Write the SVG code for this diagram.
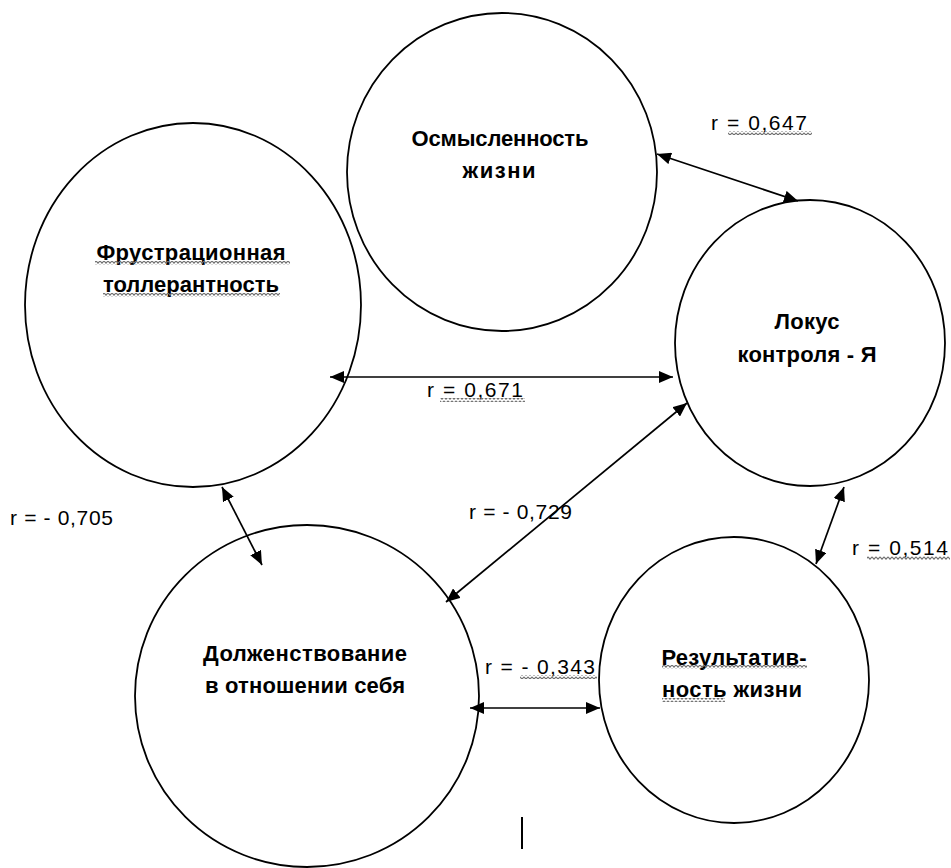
<svg xmlns="http://www.w3.org/2000/svg" width="951" height="868" viewBox="0 0 951 868">
<style>
.node ellipse{fill:#fff;stroke:#000;stroke-width:1.8}
.nt{font-family:"Liberation Sans",Arial,sans-serif;font-weight:bold;font-size:22px;fill:#000;text-anchor:middle}
.lbl{font-family:"Liberation Sans",Arial,sans-serif;font-size:21px;fill:#000}
.conn line{stroke:#000;stroke-width:1.7;marker-start:url(#ah);marker-end:url(#ah)}
.sq{fill:url(#wave)}
</style>
<defs>
<marker id="ah" markerUnits="userSpaceOnUse" markerWidth="15" markerHeight="12" refX="14" refY="6" orient="auto-start-reverse">
<path d="M0,0 L14,6 L0,12 z" fill="#000"/>
</marker>
<pattern id="wave" patternUnits="userSpaceOnUse" width="4" height="4">
<path d="M0,0.8 L2,3.2 L4,0.8" fill="none" stroke="#707070" stroke-width="1.1"/>
</pattern>
</defs>
<rect width="951" height="868" fill="#fff"/>

<g id="node-osmyslennost" class="node">
<ellipse cx="502" cy="172" rx="155" ry="159"/>
<text class="nt" x="500" y="146" textLength="177">Осмысленность</text>
<text class="nt" x="499" y="178" textLength="73">жизни</text>
</g>

<g id="node-frustr" class="node">
<ellipse cx="193" cy="305" rx="168" ry="182"/>
<text class="nt" x="191" y="260" textLength="189">Фрустрационная</text>
<text class="nt" x="191" y="292" textLength="176">толлерантность</text>
<rect class="sq" x="95" y="261" width="195" height="4"/>
<rect class="sq" x="103" y="293" width="177" height="4"/>
</g>

<g id="node-lokus" class="node">
<ellipse cx="810" cy="343" rx="135" ry="143"/>
<text class="nt" x="807" y="329" textLength="65">Локус</text>
<text class="nt" x="807" y="362" textLength="139">контроля - Я</text>
</g>

<g id="node-dolzh" class="node">
<ellipse cx="307" cy="696" rx="172" ry="171"/>
<text class="nt" x="305" y="661" textLength="204">Долженствование</text>
<text class="nt" x="305" y="693" textLength="200">в отношении себя</text>
</g>

<g id="node-result" class="node">
<ellipse cx="734" cy="680" rx="135" ry="143"/>
<text class="nt" x="734" y="665" textLength="145">Результатив-</text>
<text class="nt" x="732" y="697" textLength="140">ность жизни</text>
<rect class="sq" x="662" y="665" width="145" height="4"/>
<rect class="sq" x="662" y="698" width="63" height="4"/>
</g>

<g id="connectors" class="conn">
<line x1="657" y1="154" x2="798" y2="201"/>
<line x1="330" y1="377" x2="673" y2="377"/>
<line x1="687" y1="403" x2="446" y2="602"/>
<line x1="222" y1="487" x2="262" y2="565"/>
<line x1="470" y1="708" x2="600" y2="708"/>
<line x1="844" y1="487" x2="816" y2="564"/>
</g>

<g id="labels">
<text class="lbl" x="711" y="130" textLength="96">r =  0,647</text>
<rect class="sq" x="728" y="131" width="84" height="4"/>
<text class="lbl" x="427" y="397" textLength="96">r =  0,671</text>
<rect class="sq" x="440" y="398" width="85" height="4"/>
<text class="lbl" x="469" y="519" textLength="103">r = - 0,729</text>
<text class="lbl" x="10" y="525" textLength="103">r = - 0,705</text>
<text class="lbl" x="485" y="674" textLength="110">r = -  0,343</text>
<rect class="sq" x="520" y="675" width="77" height="4"/>
<text class="lbl" x="852" y="555" textLength="96">r =  0,514</text>
<rect class="sq" x="867" y="556" width="83" height="4"/>
</g>

<line x1="522" y1="817" x2="522" y2="849" stroke="#000" stroke-width="2"/>
</svg>
